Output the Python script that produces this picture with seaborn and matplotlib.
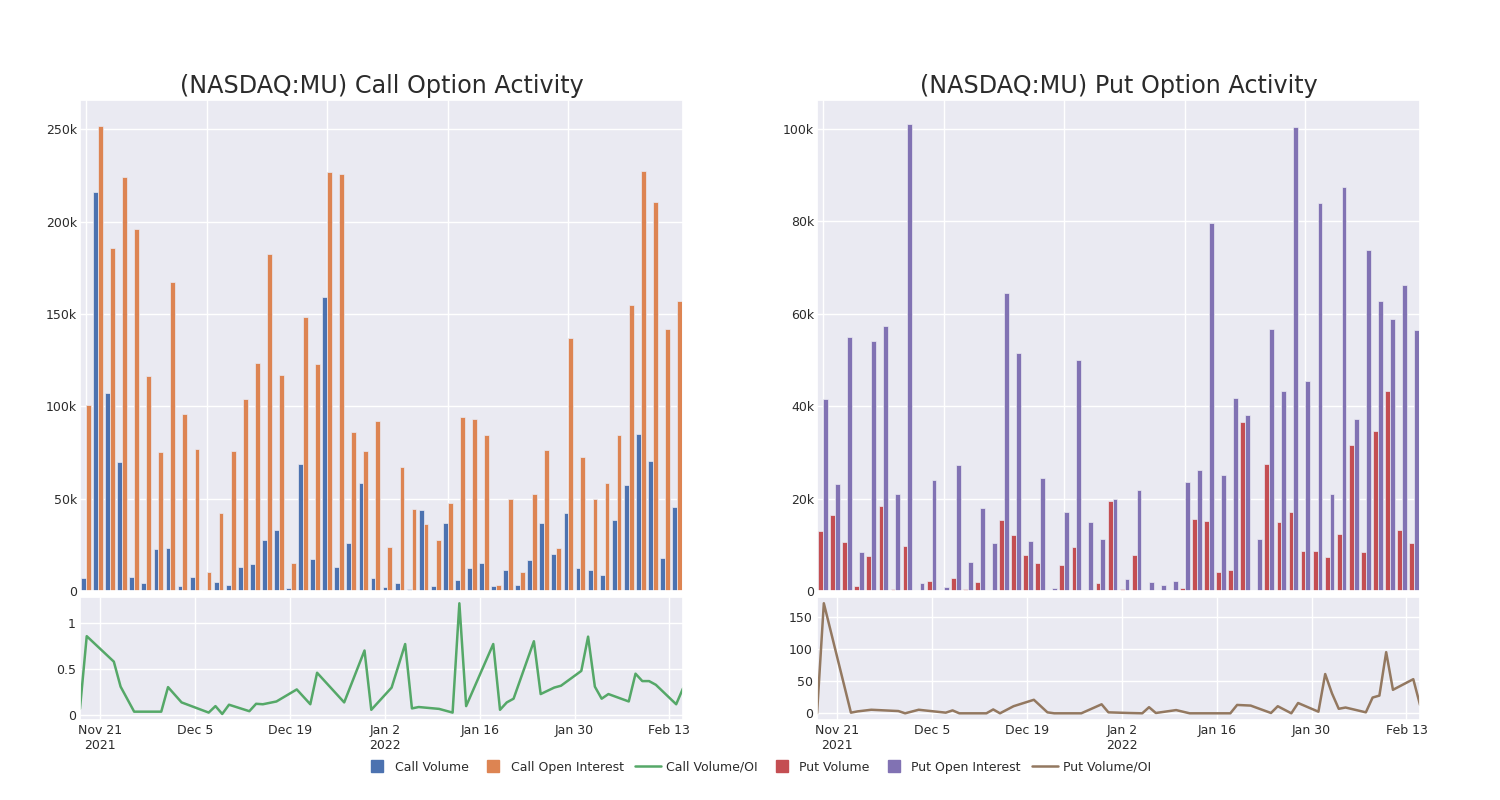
import pandas as pd
import matplotlib
matplotlib.use("Agg")
import matplotlib.pyplot as plt
from matplotlib.lines import Line2D
from matplotlib.ticker import FuncFormatter
import seaborn as sns

# trading days shown in both panels
dates = [
    "2021-11-18", "2021-11-19", "2021-11-23", "2021-11-24", "2021-11-26",
    "2021-11-30", "2021-12-01", "2021-12-03", "2021-12-07", "2021-12-08",
    "2021-12-09", "2021-12-10", "2021-12-13", "2021-12-14", "2021-12-15",
    "2021-12-17", "2021-12-20", "2021-12-22", "2021-12-23", "2021-12-27",
    "2021-12-30", "2021-12-31", "2022-01-03", "2022-01-05", "2022-01-06",
    "2022-01-07", "2022-01-10", "2022-01-12", "2022-01-13", "2022-01-14",
    "2022-01-18", "2022-01-19", "2022-01-20", "2022-01-21", "2022-01-24",
    "2022-01-25", "2022-01-27", "2022-01-28", "2022-01-31", "2022-02-01",
    "2022-02-02", "2022-02-03", "2022-02-04", "2022-02-07", "2022-02-08",
    "2022-02-09", "2022-02-10", "2022-02-11", "2022-02-14", "2022-02-15",
]

call_volume = [
    7200, 216000, 107000, 70000, 7800, 4300, 23000, 23300, 2700, 7400,
    300, 4700, 3400, 13000, 14800, 27600, 33200, 1600, 68800, 17500,
    159000, 13200, 26000, 58500, 6900, 2000, 4500, 1100, 44000, 2700,
    36800, 5800, 12600, 15200, 2700, 11200, 3000, 17000, 36800, 19900,
    42400, 12600, 11600, 8800, 38300, 57600, 85000, 70600, 17900, 45300,
]
call_oi = [
    100500, 252000, 186000, 224000, 196000, 116600, 75300, 167500, 96000, 77000,
    10300, 42200, 76000, 104000, 123500, 182700, 117000, 15300, 148400, 123000,
    227000, 225600, 86000, 76000, 92000, 23800, 67100, 44400, 36300, 27800,
    47800, 94200, 93100, 84300, 3400, 49600, 10500, 52500, 76500, 23300,
    137000, 72700, 50000, 58300, 84700, 155000, 227600, 210500, 141900, 156900,
]
call_ratio = [
    0.07, 0.855, 0.58, 0.31, 0.04, 0.04, 0.305, 0.14, 0.03, 0.1,
    0.015, 0.115, 0.045, 0.125, 0.12, 0.15, 0.28, 0.12, 0.46, 0.14,
    0.7, 0.06, 0.3, 0.77, 0.075, 0.09, 0.07, 0.03, 1.21, 0.1,
    0.77, 0.06, 0.14, 0.18, 0.8, 0.23, 0.3, 0.32, 0.48, 0.85,
    0.31, 0.18, 0.23, 0.15, 0.45, 0.37, 0.37, 0.33, 0.12, 0.29,
]

put_volume = [
    12900, 16500, 10600, 1000, 7600, 18400, 400, 9700, 100, 2200,
    0, 2900, 400, 1900, 300, 15400, 12200, 7900, 6100, 100,
    5600, 9500, 300, 1800, 19500, 400, 7700, 0, 100, 0,
    700, 15600, 15200, 4200, 4500, 36600, 0, 27600, 15000, 17100,
    8700, 8700, 7400, 12400, 31600, 8500, 34600, 43300, 13300, 10500,
]
put_oi = [
    41600, 23100, 55000, 8400, 54200, 57400, 21000, 101000, 1700, 24000,
    900, 27300, 6200, 18000, 10300, 64500, 51500, 10800, 24400, 650,
    17000, 50000, 15000, 11200, 19900, 2700, 21900, 1900, 1200, 2200,
    23500, 26100, 79600, 25200, 41700, 38000, 11300, 56700, 43200, 100500,
    45500, 83900, 21100, 87500, 37200, 73800, 62700, 58900, 66200, 56500,
]
put_ratio = [
    0, 171, 1, 3, 5.5, 3.5, 0, 5.5, 1, 4.5,
    0, 0, 0, 6, 0, 11, 21, 1.5, 0, 0,
    14, 1.5, 0.5, 0, 9.5, 0.5, 5, 0, 0, 0,
    0, 13, 12.5, 12, 0.5, 11, 0, 16, 2.5, 61,
    31, 7, 9, 1.5, 24.5, 27.5, 95, 36.5, 53, 13,
]

tick_dates = ["2021-11-21", "2021-12-05", "2021-12-19", "2022-01-02",
              "2022-01-16", "2022-01-30", "2022-02-13"]
tick_labels = ["Nov 21\n2021", "Dec 5", "Dec 19", "Jan 2\n2022",
               "Jan 16", "Jan 30", "Feb 13"]

sns.set_theme(style="darkgrid")
plt.rcParams["font.family"] = ["DejaVu Sans"]
deep = sns.color_palette("deep")
TEXT = "#2b2b2b"


def k_fmt(v, _):
    return "0" if v == 0 else f"{int(round(v / 1000))}k"


def draw_panel(ax_bar, ax_line, vol, oi, ratio, names, colors, title,
               bar_top, line_lim, line_ticks):
    bars = pd.DataFrame({"day": dates * 2,
                         "value": vol + oi,
                         "series": [names[0]] * len(dates) + [names[1]] * len(dates)})
    sns.barplot(data=bars, x="day", y="value", hue="series", order=dates,
                palette=colors[:2], width=0.8, saturation=1,
                edgecolor="#EAEAF2", linewidth=0.5, legend=False, ax=ax_bar)
    ax_bar.set_xlim(-0.5, len(dates) - 0.5)
    ax_bar.set_ylim(0, bar_top)
    ax_bar.set_xticks(range(0, len(dates), 10))
    ax_bar.set_xticklabels([])
    ax_bar.grid(True, axis="x", color="white")
    ax_bar.yaxis.set_major_formatter(FuncFormatter(k_fmt))
    ax_bar.set_xlabel("")
    ax_bar.set_ylabel("")
    ax_bar.tick_params(length=0, pad=2, labelsize=9, labelcolor=TEXT)
    ax_bar.set_title(title, fontsize=17.2, color=TEXT, pad=5)

    line = pd.DataFrame({"day": pd.to_datetime(dates), "ratio": ratio})
    sns.lineplot(data=line, x="day", y="ratio", color=colors[2],
                 linewidth=1.8, ax=ax_line)
    ax_line.set_xlim(pd.Timestamp(dates[0]), pd.Timestamp(dates[-1]))
    ax_line.set_ylim(*line_lim)
    ax_line.set_xticks(pd.to_datetime(tick_dates))
    ax_line.set_xticklabels(tick_labels)
    ax_line.set_yticks(line_ticks)
    ax_line.set_yticklabels([f"{t:g}" for t in line_ticks])
    ax_line.set_xlabel("")
    ax_line.set_ylabel("")
    ax_line.tick_params(length=0, pad=3, labelsize=9, labelcolor=TEXT)


fig = plt.figure(figsize=(15, 8), dpi=100)
ax_cb = fig.add_axes([0.0533, 0.26125, 0.402, 0.61375])
ax_cl = fig.add_axes([0.0533, 0.100, 0.402, 0.154])
ax_pb = fig.add_axes([0.5447, 0.26125, 0.402, 0.61375])
ax_pl = fig.add_axes([0.5447, 0.100, 0.402, 0.154])

draw_panel(ax_cb, ax_cl, call_volume, call_oi, call_ratio,
           ["Call Volume", "Call Open Interest"], [deep[0], deep[1], deep[2]],
           "(NASDAQ:MU) Call Option Activity", 265900, (-0.05, 1.28), [0, 0.5, 1])
draw_panel(ax_pb, ax_pl, put_volume, put_oi, put_ratio,
           ["Put Volume", "Put Open Interest"], [deep[3], deep[4], deep[5]],
           "(NASDAQ:MU) Put Option Activity", 106300, (-10.4, 181), [0, 50, 100, 150])

handles = [
    Line2D([], [], marker="s", markersize=9, linestyle="none", color=deep[0]),
    Line2D([], [], marker="s", markersize=9, linestyle="none", color=deep[1]),
    Line2D([], [], color=deep[2], linewidth=1.8),
    Line2D([], [], marker="s", markersize=9, linestyle="none", color=deep[3]),
    Line2D([], [], marker="s", markersize=9, linestyle="none", color=deep[4]),
    Line2D([], [], color=deep[5], linewidth=1.8),
]
labels = ["Call Volume", "Call Open Interest", "Call Volume/OI",
          "Put Volume", "Put Open Interest", "Put Volume/OI"]
fig.legend(handles, labels, loc="center", bbox_to_anchor=(0.505, 0.041),
           ncol=6, frameon=False, fontsize=9, handlelength=2.1,
           handletextpad=0.35, columnspacing=0.9, labelcolor=TEXT)

fig.savefig("out.png", dpi=100)
